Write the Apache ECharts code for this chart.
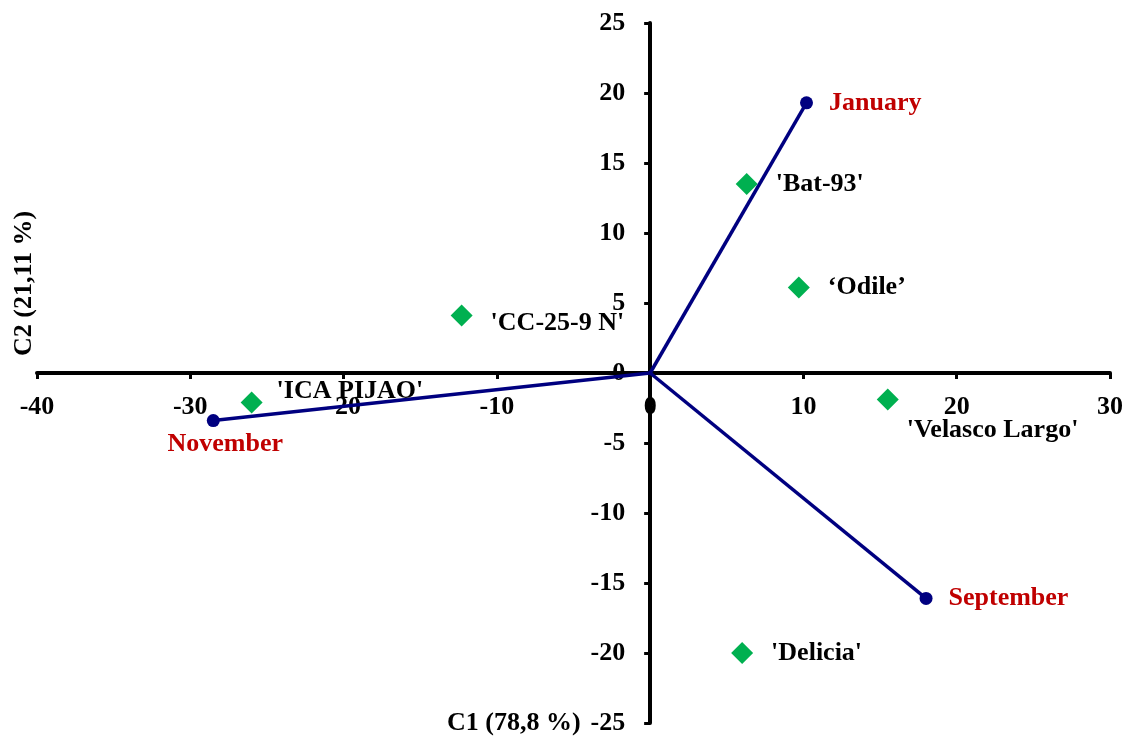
<!DOCTYPE html>
<html>
<head>
<meta charset="utf-8">
<script src="https://cdn.jsdelivr.net/npm/echarts@6/dist/echarts.min.js"></script>
<style>
  html, body { margin: 0; padding: 0; background: #fff; }
  #chart { width: 1123px; height: 738px; }
</style>
</head>
<body>
<div id="chart"></div>
<script>
// months (vectors)
const months = ['January', 'September', 'November'];
const monthC1 = [10.2, 18.0, -28.5];
const monthC2 = [19.3, -16.1, -3.4];

// cultivars (points)
const cultivars = ["'Bat-93'", '\u2018Odile\u2019', "'CC-25-9 N'", "'ICA PIJAO'", "'Velasco Largo'", "'Delicia'"];
const cultC1 = [6.3, 9.7, -12.3, -26.0, 15.5, 6.0];
const cultC2 = [13.5, 6.1, 4.1, -2.1, -1.9, -20.0];

const font = "'Liberation Serif', 'Times New Roman', serif";
const fs = 26;

// label placement per item
const monthLabel = {
    January: { position: 'right', distance: 16 },
    September: { position: 'right', distance: 16 },
    November: { position: 'bottom', distance: 4, offset: [12, 0] }
};
const cultLabel = [
    { position: 'right', distance: 18 },
    { position: 'right', distance: 18 },
    { position: 'right', distance: 18, offset: [0, 8] },
    { position: 'right', distance: 14, offset: [0, -11] },
    { position: 'right', distance: 8, offset: [0, 31] },
    { position: 'right', distance: 18 }
];

var W = 1123, H = 738;
var gl = 37, gr = 13, gt = 23, gb = 15;
var xMin = -40, xMax = 30, yMin = -25, yMax = 25;
// shift axes so they cross at the origin
var yAxisOffset = -((0 - xMin) / (xMax - xMin)) * (W - gl - gr);
var xAxisOffset = -((0 - yMin) / (yMax - yMin)) * (H - gt - gb);

var chart = echarts.init(document.getElementById('chart'));

var series = months.map(function (m, i) {
    return {
        name: m,
        type: 'line',
        data: [[0, 0], [monthC1[i], monthC2[i]]],
        symbol: 'circle',
        symbolSize: function (v) { return (v[0] === 0 && v[1] === 0) ? 0 : 13; },
        showAllSymbol: true,
        lineStyle: { color: '#000080', width: 3.5 },
        itemStyle: { color: '#000080', opacity: 1 },
        label: Object.assign({
            show: true,
            formatter: function (p) { return p.dataIndex === 1 ? m : ''; },
            color: '#C00000',
            fontFamily: font,
            fontWeight: 'bold',
            fontSize: fs
        }, monthLabel[m]),
        z: 3,
        animation: false
    };
});

series.push({
    name: 'cultivars',
    type: 'scatter',
    symbol: 'diamond',
    symbolSize: 22,
    itemStyle: { color: '#00B050', opacity: 1 },
    data: cultivars.map(function (c, i) {
        return {
            name: c,
            value: [cultC1[i], cultC2[i]],
            label: Object.assign({
                show: true,
                formatter: c,
                color: '#000',
                fontFamily: font,
                fontWeight: 'bold',
                fontSize: fs
            }, cultLabel[i])
        };
    }),
    z: 4,
    animation: false
});

var axisCommon = {
    type: 'value',
    splitLine: { show: false },
    axisLine: { onZero: false, lineStyle: { color: '#000', width: 4 } },
    axisTick: { show: true, length: 6, lineStyle: { color: '#000', width: 3 } },
    axisLabel: { color: '#000', fontFamily: font, fontWeight: 'bold', fontSize: fs }
};

chart.setOption({
    backgroundColor: '#fff',
    animation: false,
    grid: { left: gl, right: gr, top: gt, bottom: gb, containLabel: false, outerBoundsMode: 'none' },
    xAxis: Object.assign({}, axisCommon, {
        min: xMin, max: xMax, interval: 10,
        position: 'bottom',
        offset: xAxisOffset,
        axisLabel: Object.assign({}, axisCommon.axisLabel, { margin: 21 })
    }),
    yAxis: Object.assign({}, axisCommon, {
        min: yMin, max: yMax, interval: 5,
        position: 'left',
        offset: yAxisOffset,
        axisLabel: Object.assign({}, axisCommon.axisLabel, { margin: 25 })
    }),
    graphic: [
        {
            type: 'text',
            left: 447, top: 710,
            style: { text: 'C1 (78,8 %)', fill: '#000', font: 'bold ' + fs + 'px ' + font }
        },
        {
            type: 'text',
            x: 11, y: 356,
            rotation: Math.PI / 2,
            style: { text: 'C2 (21,11 %)', fill: '#000', font: 'bold ' + fs + 'px ' + font }
        }
    ],
    series: series
});
</script>
</body>
</html>
